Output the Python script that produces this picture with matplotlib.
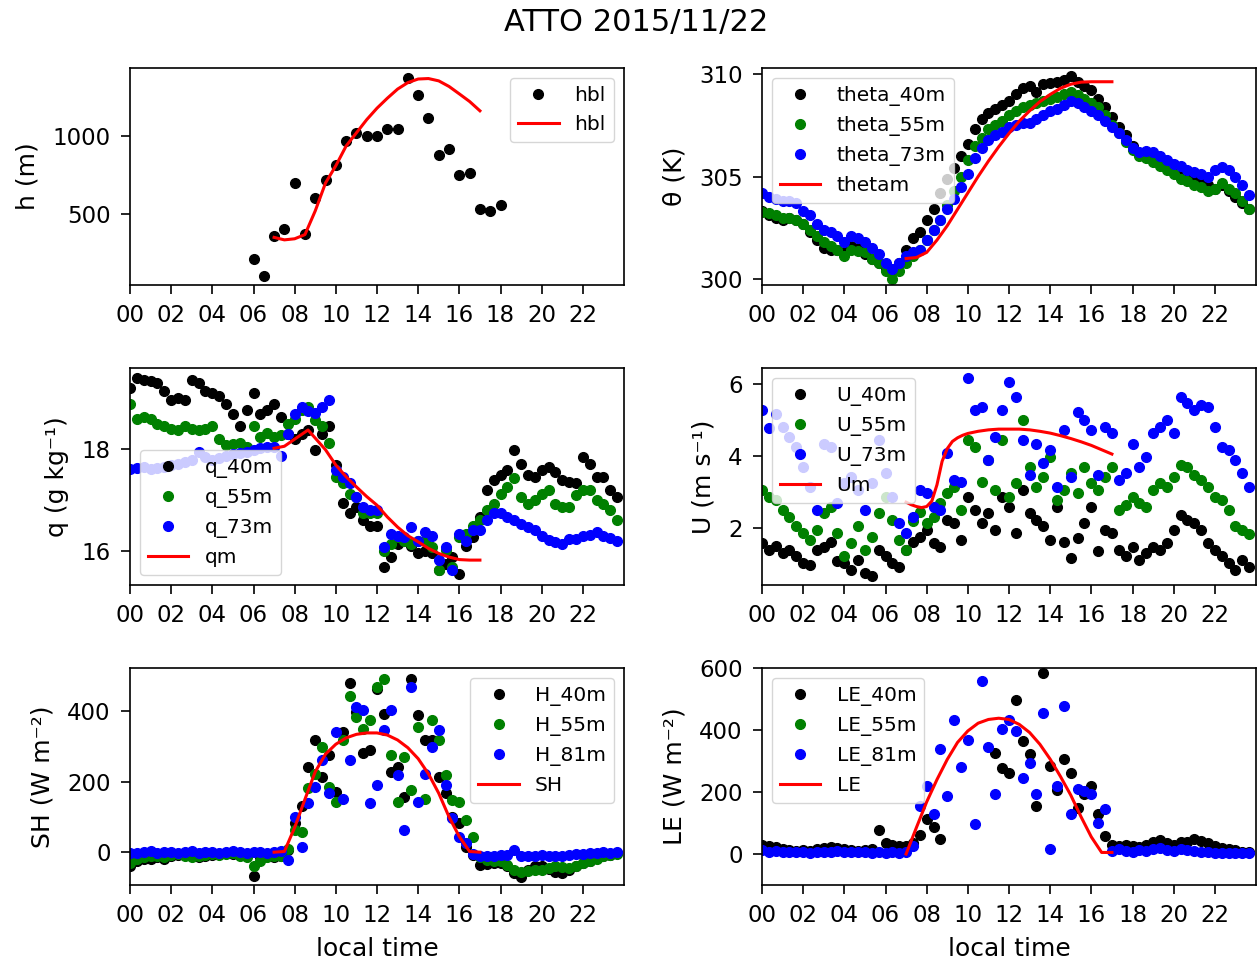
import numpy as np
import matplotlib
matplotlib.use("Agg")
import matplotlib.pyplot as plt

nan = np.nan

# ---------------------------------------------------------------- time axes
hours = np.arange(0, 24, 1 / 3)          # 20-min samples, local time (h)
model_hours = [7.0, 7.5, 8.0, 8.5, 9.0, 9.5, 10.0, 10.5, 11.0, 11.5, 12.0,
               12.5, 13.0, 13.5, 14.0, 14.5, 15.0, 15.5, 16.0, 16.5, 17.0]
xtick_hours = list(range(0, 24, 2))
xtick_labels = ["%02d" % h for h in xtick_hours]

# ---------------------------------------------------------------- boundary layer height
hbl_obs_hours = [6.0, 6.5, 7.0, 7.5, 8.0, 8.5, 9.0, 9.5, 10.0, 10.5, 11.0, 11.5,
                 12.0, 12.5, 13.0, 13.5, 14.0, 14.5, 15.0, 15.5, 16.0, 16.5,
                 17.0, 17.5, 18.0]
hbl_obs = [208, 100, 356, 405, 697, 369, 604, 720, 814, 968, 1025, 1000,
           1000, 1049, 1049, 1377, 1269, 1117, 883, 919, 754, 765,
           532, 521, 557]
hbl_model = [349, 333, 340, 367, 520, 700, 811, 938, 1023, 1108, 1182,
             1246, 1305, 1347, 1370, 1373, 1358, 1322, 1274, 1225, 1165]

# ---------------------------------------------------------------- potential temperature (K)
theta_40m = [303.3, 303.1, 303.0, 302.9, 303.0, 302.9, 302.7, 302.3, 301.9, 301.5, 301.4, 301.4,
             301.3, 301.6, 301.5, 301.2, 301.0, 300.8, 300.5, 300.4, 300.8, 301.4, 302.0, 302.3,
             302.9, 303.4, 304.2, 304.9, 305.4, 306.0, 306.6, 307.3, 307.8, 308.1, 308.3, 308.5,
             308.7, 309.0, 309.3, 309.4, 309.1, 309.5, 309.55, 309.6, 309.7, 309.9, 309.6, 309.4,
             309.2, 308.8, 308.4, 307.9, 307.4, 307.0, 306.5, 306.1, 306.0, 305.8, 305.6, 305.5,
             305.4, 305.2, 305.1, 305.0, 304.8, 304.6, 304.4, 304.6, 304.3, 304.0, 303.7, 303.4]
theta_55m = [303.25, 303.2, 303.1, 303.0, 303.0, 302.9, 302.7, 302.4, 302.1, 301.8, 301.6, 301.4,
             301.1, 301.4, 301.35, 301.3, 301.0, 300.8, 300.4, 300.0, 300.4, 300.8, 301.1, 301.4,
             301.9, 302.4, 302.9, 303.6, 304.3, 305.0, 305.8, 306.5, 306.9, 307.3, 307.5, 307.7,
             308.0, 308.2, 308.4, 308.5, 308.6, 308.7, 308.8, 308.9, 309.0, 309.1, 308.95, 308.8,
             308.6, 308.4, 308.0, 307.5, 307.1, 306.7, 306.3, 306.0, 305.9, 305.7, 305.5, 305.3,
             305.1, 304.9, 304.8, 304.6, 304.5, 304.3, 304.4, 304.7, 304.4, 304.2, 303.8, 303.4]
theta_73m = [304.2, 304.0, 303.9, 303.8, 303.8, 303.7, 303.3, 303.1, 302.7, 302.4, 302.3, 302.1,
             301.8, 302.1, 302.0, 301.8, 301.5, 301.2, 300.8, 300.5, 300.8, 301.1, 301.3, 301.4,
             301.9, 302.4, 302.9, 303.4, 303.9, 304.5, 305.1, 305.9, 306.4, 306.8, 307.0, 307.15,
             307.4, 307.5, 307.6, 307.6, 307.8, 308.0, 308.2, 308.3, 308.5, 308.7, 308.6, 308.4,
             308.2, 308.0, 307.7, 307.4, 307.1, 306.8, 306.4, 306.2, 306.25, 306.2, 306.0, 305.8,
             305.6, 305.5, 305.3, 305.2, 305.1, 305.0, 305.3, 305.45, 305.3, 305.0, 304.6, 304.1]
theta_model = [301.0, 301.05, 301.3, 301.9, 302.6, 303.4, 304.2, 305.0, 305.75, 306.45, 307.1,
               307.7, 308.2, 308.65, 309.0, 309.3, 309.5, 309.6, 309.62, 309.62, 309.62]

# ---------------------------------------------------------------- specific humidity (g/kg)
q_40m = [19.2, 19.4, 19.37, 19.34, 19.3, 19.15, 18.97, 19.0, 18.97, 19.37, 19.3, 19.15,
         19.1, 19.05, 18.9, 18.7, 18.45, 18.78, 19.1, 18.7, 18.78, 18.9, 18.64, 18.3,
         18.2, 18.3, 18.38, 17.99, 18.3, 18.45, 17.7, 16.95, 16.74, 16.87, 16.6, 16.5,
         16.5, 15.68, 15.88, 16.14, 16.2, 16.1, 15.95, 16.0, 15.95, 15.62, 15.75, 15.88,
         15.55, 16.1, 16.28, 16.67, 17.2, 17.4, 17.5, 17.6, 17.99, 17.72, 17.5, 17.46,
         17.6, 17.66, 17.55, 17.4, 17.35, 17.33, 17.85, 17.72, 17.46, 17.46, 17.2, 17.07]
q_55m = [18.9, 18.6, 18.64, 18.6, 18.5, 18.45, 18.4, 18.38, 18.45, 18.4, 18.38, 18.4,
         18.45, 18.2, 18.08, 18.1, 18.12, 18.05, 18.45, 18.25, 18.32, 18.25, 18.28, 18.5,
         18.6, 18.78, 18.84, 18.58, 18.45, 18.12, 17.46, 17.33, 17.13, 17.07, 16.74, 16.74,
         16.74, 16.0, 16.14, 16.28, 16.2, 16.14, 16.2, 16.2, 16.08, 15.62, 16.01, 15.68,
         16.28, 16.34, 16.5, 16.6, 16.8, 16.93, 17.13, 17.26, 17.43, 17.07, 16.93, 17.0,
         17.13, 17.2, 16.93, 16.87, 16.87, 17.1, 17.2, 17.2, 17.0, 16.93, 16.8, 16.6]
q_73m = [17.62, 17.64, 17.66, 17.62, 17.64, 17.66, 17.7, 17.72, 17.76, 17.79, 17.95, 17.85,
         17.79, 17.83, 17.86, 17.9, 17.92, 17.95, 17.99, 18.02, 18.05, 18.05, 17.86, 18.3,
         18.7, 18.84, 18.75, 18.71, 18.84, 18.97, 17.6, 17.46, 17.33, 17.07, 16.87, 16.8,
         16.8, 16.08, 16.34, 16.3, 16.28, 16.47, 16.2, 16.37, 16.3, 15.82, 16.08, 15.62,
         16.34, 16.2, 16.41, 16.41, 16.6, 16.74, 16.74, 16.67, 16.6, 16.54, 16.47, 16.41,
         16.3, 16.22, 16.18, 16.14, 16.24, 16.24, 16.3, 16.32, 16.37, 16.3, 16.25, 16.2]
q_model_hours = [7.0, 7.5, 8.0, 8.65, 9.0, 9.5, 10.0, 10.5, 11.0, 11.5, 12.0, 12.5,
                 13.0, 13.5, 14.0, 14.5, 15.0, 15.5, 16.0, 16.5, 17.0]
q_model = [18.02, 18.06, 18.2, 18.38, 18.22, 17.99, 17.69, 17.46, 17.26, 17.07, 16.9, 16.67,
           16.47, 16.3, 16.18, 16.05, 15.95, 15.88, 15.83, 15.82, 15.82]

# ---------------------------------------------------------------- wind speed (m/s)
U_40m = [1.59, 1.4, 1.5, 1.31, 1.4, 1.22, 1.03, 0.99, 1.4, 1.49, 1.63, 1.1,
         1.03, 0.85, 1.13, 0.76, 0.67, 1.4, 1.22, 1.03, 0.94, 1.4, 1.63, 1.77,
         1.95, 1.59, 1.49, 2.23, 2.14, 1.68, 2.87, 2.5, 2.14, 2.41, 1.95, 2.87,
         2.6, 1.86, 3.06, 2.41, 2.23, 2.05, 1.68, 2.6, 1.63, 1.17, 1.72, 2.14,
         2.6, 1.36, 1.95, 1.86, 1.4, 1.22, 1.49, 1.13, 1.31, 1.49, 1.4, 1.59,
         1.95, 2.37, 2.23, 2.14, 1.95, 1.59, 1.4, 1.22, 1.03, 0.85, 1.13, 0.94]
U_55m = [3.06, 2.87, 2.78, 2.5, 2.32, 2.05, 1.86, 1.68, 1.95, 2.41, 2.6, 1.86,
         1.22, 1.59, 2.05, 1.4, 1.77, 2.41, 2.87, 2.23, 1.68, 1.4, 2.2, 2.45,
         2.14, 2.32, 2.69, 2.97, 3.15, 2.5, 4.44, 4.25, 3.29, 3.88, 3.06, 4.44,
         2.87, 3.24, 4.99, 3.7, 3.15, 3.43, 3.98, 2.78, 3.06, 3.52, 2.97, 3.7,
         3.24, 3.06, 3.43, 3.7, 2.5, 2.64, 2.87, 2.69, 2.6, 3.06, 3.24, 3.15,
         3.43, 3.75, 3.7, 3.47, 3.33, 3.15, 2.87, 2.78, 2.5, 2.05, 1.95, 1.85]
U_73m = [5.26, 4.76, 5.17, 4.8, 4.53, 4.25, 3.7, 3.15, 2.5, 4.34, 4.25, 2.69,
         3.24, 3.43, 3.06, 2.5, 3.24, 4.44, 3.52, 2.87, 2.14, 1.86, 2.32, 3.06,
         2.97, 2.6, 2.5, 4.07, 3.33, 3.29, 6.14, 5.26, 5.35, 3.88, 4.53, 5.26,
         6.05, 5.63, 4.44, 3.47, 4.34, 3.79, 4.16, 3.15, 4.71, 3.43, 5.22, 4.99,
         4.71, 3.47, 4.8, 4.62, 3.33, 3.52, 4.34, 3.7, 3.98, 4.62, 4.8, 4.99,
         4.62, 5.63, 5.45, 5.26, 5.4, 5.35, 4.8, 4.25, 4.16, 3.88, 3.52, 3.15]
U_model_hours = [7.0, 7.25, 7.5, 7.75, 8.0, 8.25, 8.5, 8.75, 9.0, 9.25, 9.5, 9.75, 10.0,
                 10.5, 11.0, 11.5, 12.0, 12.5, 13.0, 13.5, 14.0, 14.5, 15.0, 15.5,
                 16.0, 16.5, 17.0]
U_model = [2.72, 2.65, 2.6, 2.57, 2.6, 2.75, 3.2, 3.85, 4.2, 4.4, 4.5, 4.57, 4.62,
           4.68, 4.72, 4.74, 4.74, 4.74, 4.72, 4.68, 4.63, 4.56, 4.48, 4.39,
           4.29, 4.17, 4.05]

# ---------------------------------------------------------------- sensible heat flux (W/m2)
H_40m = [-40, -25, -20, -18, -15, -20, -10, -8, -5, -12, -15, -10,
         -8, -5, -3, -5, -8, -10, -68, -15, -12, -15, -10, 5,
         82, 130, 242, 319, 214, 275, 171, 341, 480, 397, 280, 289,
         463, 392, 228, 242, 157, 491, 388, 317, 317, 214, 167, 101,
         82, 16, -8, -36, -33, -31, -31, -40, -59, -69, -50, -40,
         -40, -48, -55, -59, -50, -40, -31, -25, -17, -12, -8, -3]
H_55m = [-30, -20, -15, -12, -10, -15, -8, -5, -10, -15, -12, -8,
         -5, -8, -5, -3, -10, -15, -40, -25, -15, -12, -10, 10,
         63, 56, 183, 223, 298, 185, 143, 317, 444, 383, 350, 374,
         468, 491, 275, 143, 270, 176, 355, 152, 374, 317, 218, 148,
         143, 91, 44, -15, -22, -24, -26, -35, -50, -55, -52, -50,
         -50, -45, -40, -42, -45, -38, -31, -26, -18, -12, -8, -5]
H_81m = [-3, -2, 0, 2, -2, 0, 1, -1, 0, 2, -1, 0,
         1, -2, 0, 2, 0, -1, 1, 0, -2, 0, 2, -22,
         101, 16, 138, 185, 261, 167, 341, 152, 261, 411, 402, 138,
         190, 345, 402, 218, 63, 468, 143, 223, 298, 345, 190, 96,
         44, 25, -5, -10, -12, -10, -8, -8, 7, -10, -12, -10,
         -8, -10, -12, -10, -8, -5, -5, -3, -2, 0, -2, 0]
SH_model = [0, 2, 70, 150, 228, 278, 306, 324, 334, 338, 338, 332, 318, 296, 265,
            222, 167, 100, 44, 2, 0]

# ---------------------------------------------------------------- latent heat flux (W/m2)
LE_40m = [30, 25, 22, 15, 12, 10, 12, 10, 15, 20, 22, 18,
          15, 12, 10, 12, 15, 77, 37, 29, 25, 27, 35, 60,
          112, 86, 48, nan, nan, nan, nan, nan, nan, nan, 326, 278,
          262, 497, 363, 321, 155, 585, 283, 208, 305, 262, 150, 192,
          219, 128, 59, 30, 25, 28, 25, 22, 28, 40, 45, 35,
          30, 38, 40, 50, 42, 35, 25, 18, 15, 12, 8, 5]
LE_55m = [nan] * 72
LE_81m = [12, 8, 10, 6, 8, 5, 7, 4, 6, 8, 5, 10,
          7, 6, 8, 5, 3, 5, 4, 6, 3, 5, 27, 155,
          219, 128, 339, 187, 433, 281, 369, 98, 559, 345, 192, 403,
          433, 396, 246, 294, 192, 455, 16, 219, 476, 128, 210, 203,
          192, 101, 144, 11, 15, 10, 8, 12, 10, 15, 20, 12,
          10, 15, 12, 10, 8, 5, 3, 2, 3, 2, 2, 3]
LE_model = [0, 85, 168, 240, 305, 360, 397, 422, 434, 438, 434, 418, 392, 354, 306,
            250, 190, 120, 55, 5, 5]

# ---------------------------------------------------------------- figure
plt.rcParams.update({
    "font.family": "DejaVu Sans",
    "font.size": 14.5,
    "axes.labelsize": 18,
    "xtick.labelsize": 16.5,
    "ytick.labelsize": 16.5,
    "xtick.major.size": 6.5,
    "ytick.major.size": 6.5,
    "xtick.major.pad": 7.5,
    "ytick.major.pad": 7.5,
    "xtick.major.width": 1.2,
    "ytick.major.width": 1.2,
    "axes.linewidth": 1.2,
})
W, H = 1257, 966
fig = plt.figure(figsize=(W / 100, H / 100), dpi=100)


def panel_axes(left_px, top_px):
    return fig.add_axes([left_px / W, 1 - (top_px + 217) / H, 494 / W, 217 / H])


MS = 7.0
LW = 2.2


def dots(ax, x, y, color, label):
    ax.plot(x, y, "o", ms=MS, color=color, label=label, linestyle="none")


def finish(ax, ylabel, yticks, ylim, loc):
    ax.set_xlim(0, 24)
    ax.set_xticks(xtick_hours)
    ax.set_xticklabels(xtick_labels)
    ax.set_yticks(yticks)
    ax.set_ylim(*ylim)
    ax.set_ylabel(ylabel, labelpad=9)
    ax.legend(loc=loc)


# h
ax = panel_axes(130, 68)
dots(ax, hbl_obs_hours, hbl_obs, "k", "hbl")
ax.plot(model_hours, hbl_model, color="r", lw=LW, label="hbl")
finish(ax, "h (m)", [500, 1000], (42, 1441), "upper right")

# theta
ax = panel_axes(762, 68)
dots(ax, hours, theta_40m, "k", "theta_40m")
dots(ax, hours, theta_55m, "g", "theta_55m")
dots(ax, hours, theta_73m, "b", "theta_73m")
ax.plot(model_hours, theta_model, color="r", lw=LW, label="thetam")
finish(ax, "θ (K)", [300, 305, 310], (299.71, 310.29), "upper left")

# q
ax = panel_axes(130, 368)
dots(ax, hours, q_40m, "k", "q_40m")
dots(ax, hours, q_55m, "g", "q_55m")
dots(ax, hours, q_73m, "b", "q_73m")
ax.plot(q_model_hours, q_model, color="r", lw=LW, label="qm")
finish(ax, "q (g kg⁻¹)", [16, 18], (15.33, 19.6), "lower left")

# U
ax = panel_axes(762, 368)
dots(ax, hours, U_40m, "k", "U_40m")
dots(ax, hours, U_55m, "g", "U_55m")
dots(ax, hours, U_73m, "b", "U_73m")
ax.plot(U_model_hours, U_model, color="r", lw=LW, label="Um")
finish(ax, "U (m s⁻¹)", [2, 4, 6], (0.43, 6.43), "upper left")

# SH
ax = panel_axes(130, 668)
dots(ax, hours, H_40m, "k", "H_40m")
dots(ax, hours, H_55m, "g", "H_55m")
dots(ax, hours, H_81m, "b", "H_81m")
ax.plot(model_hours, SH_model, color="r", lw=LW, label="SH")
finish(ax, "SH (W m⁻²)", [0, 200, 400], (-93, 522), "upper right")
ax.set_xlabel("local time", labelpad=7)

# LE
ax = panel_axes(762, 668)
dots(ax, hours, LE_40m, "k", "LE_40m")
dots(ax, hours, LE_55m, "g", "LE_55m")
dots(ax, hours, LE_81m, "b", "LE_81m")
ax.plot(model_hours, LE_model, color="r", lw=LW, label="LE")
finish(ax, "LE (W m⁻²)", [0, 200, 400, 600], (-100, 600), "upper left")
ax.set_xlabel("local time", labelpad=7)

fig.text(0.506, 0.977, "ATTO 2015/11/22", ha="center", va="center", fontsize=22)

fig.savefig("out.png", dpi=100)
